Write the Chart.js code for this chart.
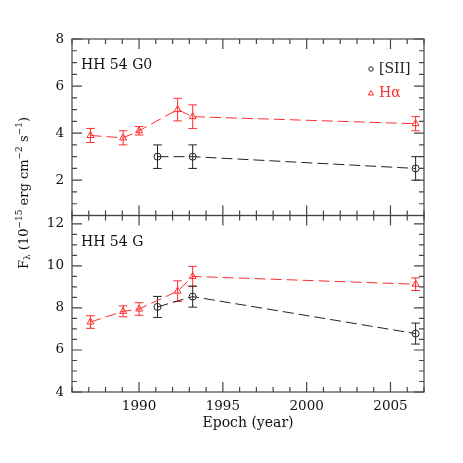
<!DOCTYPE html>
<html>
<head>
<meta charset="utf-8">
<script src="https://cdn.jsdelivr.net/npm/chart.js@4/dist/chart.umd.min.js"></script>
<style>
html,body{margin:0;padding:0;background:#fff;}
canvas{display:block;}
</style>
</head>
<body>
<canvas id="c" width="463" height="463"></canvas>
<script>
// ---- data ----
const yearsHa  = [1987.1, 1989.05, 1990.0, 1992.3, 1993.2, 2006.5];
const yearsSII = [1991.1, 1993.2, 2006.5];

const g0Ha     = [3.9, 3.8, 4.1, 5.0, 4.7, 4.4];
const g0HaErr  = [0.3, 0.3, 0.18, 0.48, 0.5, 0.3];
const g0SII    = [3.0, 3.0, 2.5];
const g0SIIErr = [0.5, 0.5, 0.5];

const gHa      = [7.33, 7.84, 7.95, 8.8, 9.5, 9.13];
const gHaErr   = [0.3, 0.26, 0.3, 0.49, 0.48, 0.3];
const gSII     = [8.05, 8.54, 6.78];
const gSIIErr  = [0.5, 0.5, 0.5];

const xTicks      = [1990, 1995, 2000, 2005];
const yTopTicks   = [2, 4, 6, 8];
const yBotTicks   = [4, 6, 8, 10, 12];
const panelLabels = ['HH 54 G0', 'HH 54 G'];
const legendLabels = ['[SII]', 'H\u03B1'];

// ---- styles ----
const RED = 'rgb(255,45,45)';
const BLK = '#222';
const FRAME = '#444';
const FONT = 'DejaVu Serif';

function pts(xs, ys){ return xs.map((x,i)=>({x:x, y:ys[i]})); }
function ds(label, xs, ys, errs, axis, color, style){
  return {
    label, data: pts(xs, ys), errs, yAxisID: axis,
    showLine: true, borderColor: color, borderWidth: 1, borderDash: [11,5],
    pointStyle: style, pointRadius: style==='triangle'?4:3.5,
    pointBorderColor: color, pointBackgroundColor: 'rgba(0,0,0,0)', pointBorderWidth: 1,
    tension: 0, fill: false
  };
}

const panelPlugin = {
  id: 'panels',
  beforeDatasetsDraw(chart){
    const ctx = chart.ctx;
    ctx.save();
    ctx.setLineDash([]);
    ctx.lineWidth = 1;
    chart.data.datasets.forEach(d=>{
      const ys = chart.scales[d.yAxisID];
      const xs = chart.scales.x;
      ctx.strokeStyle = d.borderColor;
      d.data.forEach((p,i)=>{
        const px = xs.getPixelForValue(p.x);
        const y1 = ys.getPixelForValue(p.y - d.errs[i]);
        const y2 = ys.getPixelForValue(p.y + d.errs[i]);
        ctx.beginPath();
        ctx.moveTo(px, y1); ctx.lineTo(px, y2);
        ctx.moveTo(px-4.3, y1); ctx.lineTo(px+4.3, y1);
        ctx.moveTo(px-4.3, y2); ctx.lineTo(px+4.3, y2);
        ctx.stroke();
      });
    });
    ctx.restore();
  },
  afterDraw(chart){
    const ctx = chart.ctx;
    const xs = chart.scales.x;
    const L = chart.chartArea.left, R = chart.chartArea.right;
    ctx.save();
    ctx.setLineDash([]);
    ctx.strokeStyle = FRAME;
    ctx.lineWidth = 1.2;
    ['yT','yB'].forEach(id=>{
      const s = chart.scales[id];
      const T = s.top, B = s.bottom;
      ctx.strokeRect(L, T, R-L, B-T);
      ctx.beginPath();
      for(let yr=Math.ceil(xs.min); yr<=xs.max; yr++){
        const px = xs.getPixelForValue(yr);
        const len = yr%5===0 ? 10 : 5;
        ctx.moveTo(px, B); ctx.lineTo(px, B-len);
        ctx.moveTo(px, T); ctx.lineTo(px, T+len);
      }
      for(let v=Math.ceil(s.min*2)/2; v<=s.max+1e-9; v+=0.5){
        const py = s.getPixelForValue(v);
        const len = Math.abs(v%2)<1e-9 ? 10 : 5;
        ctx.moveTo(L, py); ctx.lineTo(L+len, py);
        ctx.moveTo(R, py); ctx.lineTo(R-len, py);
      }
      ctx.stroke();
    });

    // panel labels
    ctx.fillStyle = '#111';
    ctx.font = '14px "' + FONT + '"';
    ctx.textBaseline = 'middle';
    ctx.textAlign = 'left';
    ctx.fillText(panelLabels[0], 81, 65);
    ctx.fillText(panelLabels[1], 81, 242);

    // legend
    ctx.lineWidth = 1;
    ctx.strokeStyle = BLK;
    ctx.beginPath(); ctx.arc(371, 69, 2.2, 0, Math.PI*2); ctx.stroke();
    ctx.fillStyle = BLK;
    ctx.fillText(legendLabels[0], 379, 69);
    ctx.strokeStyle = RED;
    ctx.beginPath();
    ctx.moveTo(371, 90.5); ctx.lineTo(373.6, 95); ctx.lineTo(368.4, 95); ctx.closePath();
    ctx.stroke();
    ctx.fillStyle = RED;
    ctx.fillText(legendLabels[1], 379, 93);

    // x title
    ctx.fillStyle = '#111';
    ctx.font = '14px "' + FONT + '"';
    ctx.textAlign = 'center';
    ctx.fillText('Epoch (year)', (L+R)/2, 423);

    // y title (rotated)
    const parts = [
      ['F', 0, 13], ['\u03BB', 3, 9], [' (10', 0, 13], ['\u221215', -5, 9],
      [' erg cm', 0, 13], ['\u22122', -5, 9], [' s', 0, 13], ['\u22121', -5, 9], [')', 0, 13]
    ];
    let total = 0;
    parts.forEach(p=>{ ctx.font = p[2]+'px "'+FONT+'"'; p.push(ctx.measureText(p[0]).width); total += p[3]; });
    ctx.translate(25, 193);
    ctx.rotate(-Math.PI/2);
    ctx.textAlign = 'left';
    ctx.textBaseline = 'middle';
    let cx = -total/2;
    parts.forEach(p=>{
      ctx.font = p[2]+'px "'+FONT+'"';
      ctx.fillText(p[0], cx, p[1]);
      cx += p[3];
    });
    ctx.restore();
  }
};

const tickFont = {family: FONT, size: 13.5};

new Chart(document.getElementById('c'), {
  type: 'scatter',
  data: {
    datasets: [
      ds('G0 Ha', yearsHa, g0Ha, g0HaErr, 'yT', RED, 'triangle'),
      ds('G0 SII', yearsSII, g0SII, g0SIIErr, 'yT', BLK, 'circle'),
      ds('G Ha', yearsHa, gHa, gHaErr, 'yB', RED, 'triangle'),
      ds('G SII', yearsSII, gSII, gSIIErr, 'yB', BLK, 'circle')
    ]
  },
  options: {
    responsive: false,
    animation: false,
    layout: {padding: {top: 39, right: 39, left: 0, bottom: 0}},
    plugins: {legend: {display: false}, tooltip: {enabled: false}},
    scales: {
      x: {
        type: 'linear', position: 'bottom', min: 1986, max: 2007,
        grid: {display: false, drawTicks: false}, border: {display: false},
        afterBuildTicks: s => { s.ticks = xTicks.map(v=>({value: v})); },
        ticks: {font: tickFont, color: '#111', padding: 6, maxRotation: 0, autoSkip: false, callback: v => String(v)},
        afterFit: s => { s.height = 71; }
      },
      yB: {
        type: 'linear', position: 'left', min: 4, max: 12.4, stack: 'panels', stackWeight: 1, weight: 1,
        grid: {display: false, drawTicks: false}, border: {display: false},
        afterBuildTicks: s => { s.ticks = yBotTicks.map(v=>({value: v})); },
        ticks: {font: tickFont, color: '#111', padding: 8, callback: v => String(v)},
        afterFit: s => { s.width = 72; }
      },
      yT: {
        type: 'linear', position: 'left', min: 0.5, max: 8, stack: 'panels', stackWeight: 1, weight: 2,
        grid: {display: false, drawTicks: false}, border: {display: false},
        afterBuildTicks: s => { s.ticks = yTopTicks.map(v=>({value: v})); },
        ticks: {font: tickFont, color: '#111', padding: 8, callback: v => String(v)},
        afterFit: s => { s.width = 72; }
      }
    }
  },
  plugins: [panelPlugin]
});
</script>
</body>
</html>
